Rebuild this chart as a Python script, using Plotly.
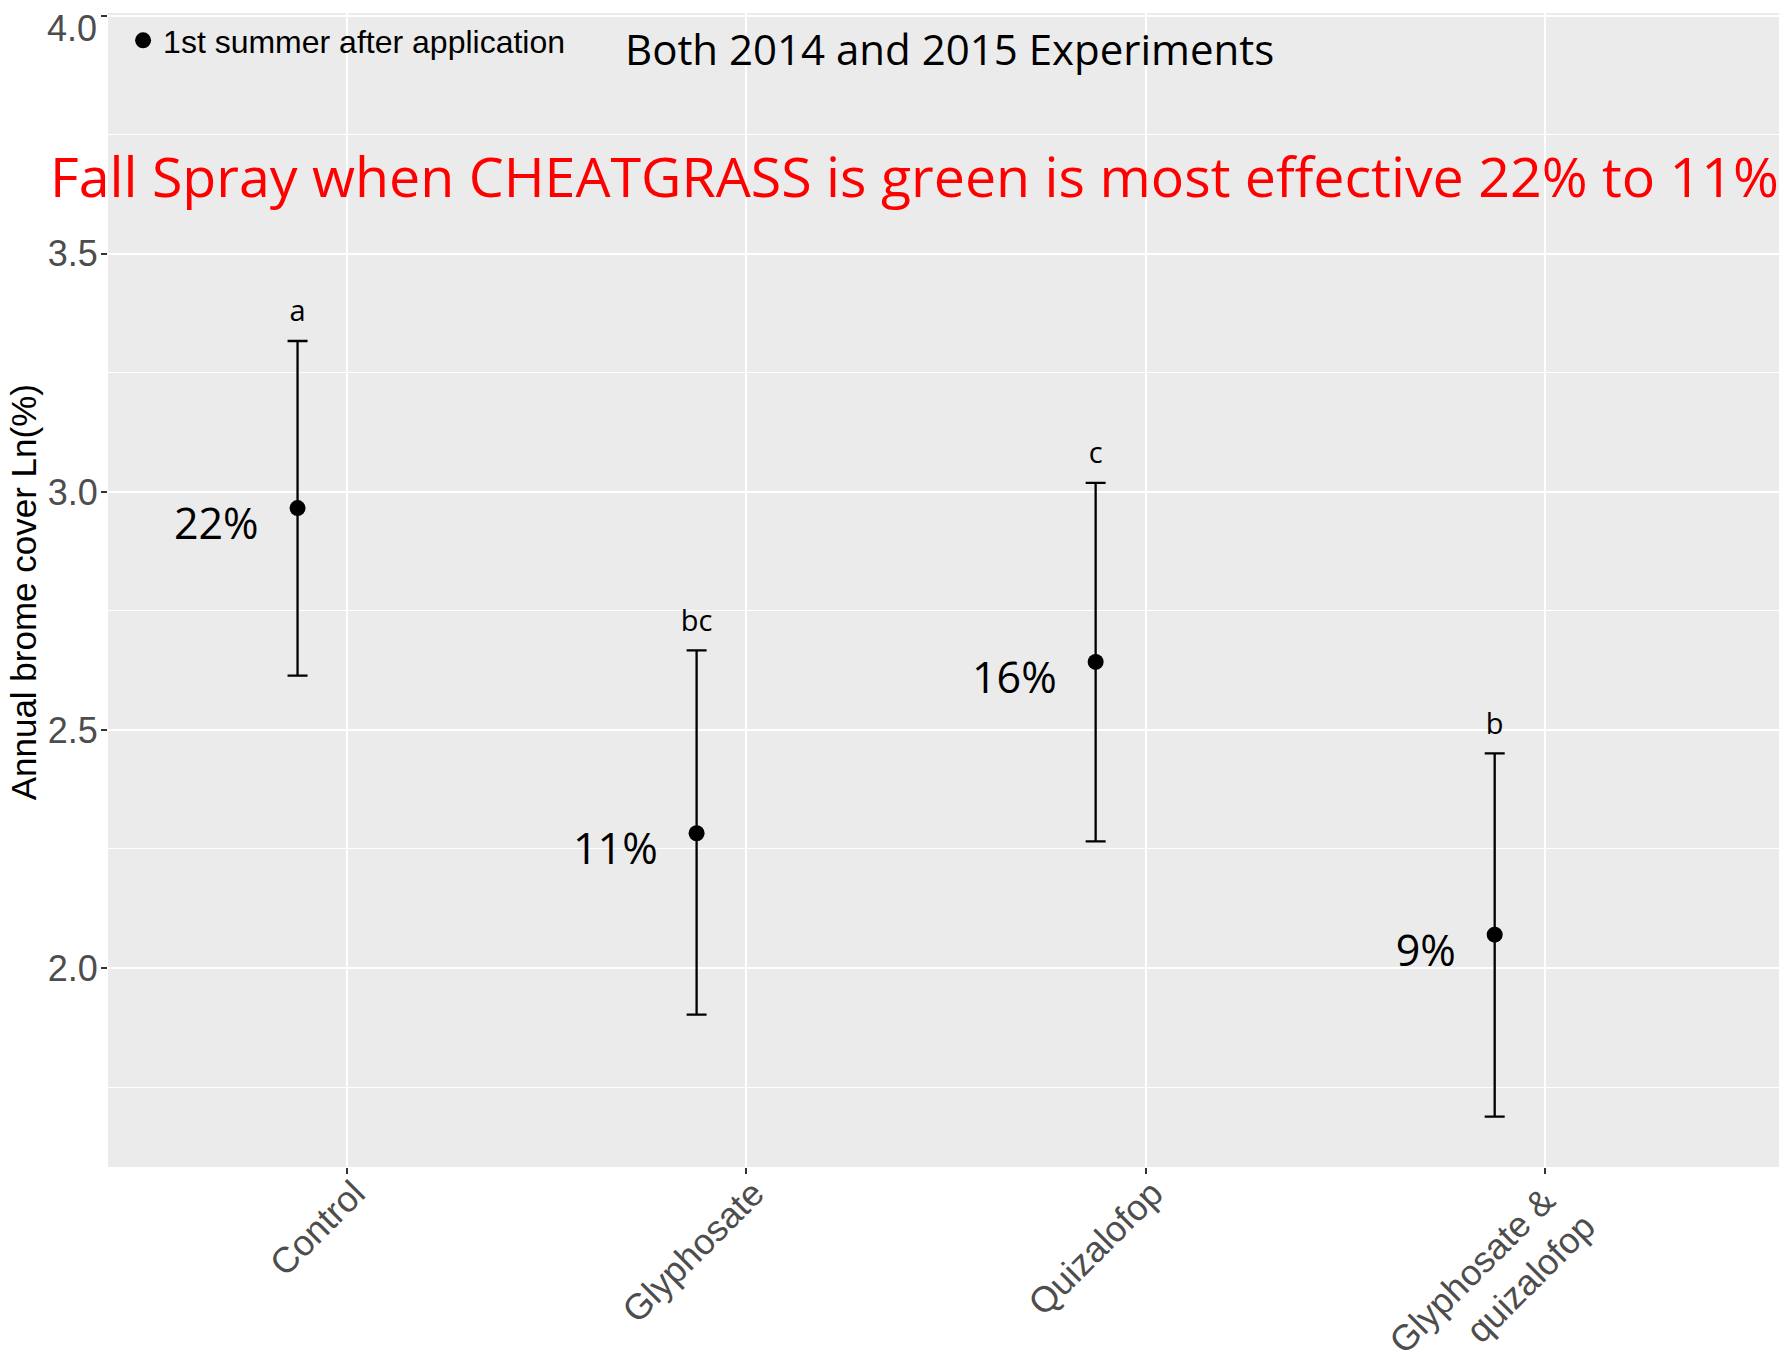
import plotly.graph_objects as go

categories = ["Control", "Glyphosate", "Quizalofop", "Glyphosate &\u00a0<br>quizalofop"]
means = [2.966, 2.283, 2.643, 2.070]
upper = [3.317, 2.667, 3.019, 2.451]
lower = [2.614, 1.902, 2.266, 1.688]
letters = ["a", "bc", "c", "b"]
percents = ["22%", "11%", "16%", "9%"]
series_name = "1st summer after application"
y_ticks = [2.0, 2.5, 3.0, 3.5, 4.0]

cat_pos = [1, 2, 3, 4]
dodge = -0.125
xp = [p + dodge for p in cat_pos]

AX_FONT = "Liberation Sans, Arial, sans-serif"
CAL_FONT = "Open Sans, Noto Sans, sans-serif"

fig = go.Figure()

fig.add_trace(go.Scatter(
    x=xp, y=means, mode="markers", name=series_name,
    marker=dict(color="black", size=16),
    error_y=dict(type="data", symmetric=False,
                 array=[u - m for u, m in zip(upper, means)],
                 arrayminus=[m - l for m, l in zip(means, lower)],
                 color="black", thickness=2.3, width=10),
    showlegend=True,
))

# significance letters above the bars
fig.add_trace(go.Scatter(
    x=xp, y=[u + 0.026 for u in upper], mode="text", text=letters,
    textposition="top center",
    textfont=dict(family=CAL_FONT, size=29, color="black"),
    showlegend=False, hoverinfo="skip", cliponaxis=False,
))

# percent labels to the left of points
fig.add_trace(go.Scatter(
    x=[x - 0.0975 for x in xp], y=[m - 0.043 for m in means], mode="text",
    text=percents, textposition="middle left",
    textfont=dict(family=CAL_FONT, size=43, color="black"),
    showlegend=False, hoverinfo="skip", cliponaxis=False,
))

fig.add_annotation(
    x=2.42, y=3.665, xref="x", yref="y",
    text="Fall Spray when CHEATGRASS is green is most effective 22% to 11%",
    showarrow=False, font=dict(family=CAL_FONT, size=55.5, color="red"),
    xanchor="center", yanchor="middle",
)
fig.add_annotation(
    x=0.502, y=0.969, xref="paper", yref="paper",
    text="Both 2014 and 2015 Experiments",
    showarrow=False, font=dict(family=CAL_FONT, size=42, color="black"),
    xanchor="center", yanchor="middle",
)
fig.add_annotation(
    x=-0.0507, y=0.498, xref="paper", yref="paper",
    text="Annual brome cover Ln(%)", textangle=-90,
    showarrow=False, font=dict(family=AX_FONT, size=35, color="black"),
    xanchor="center", yanchor="middle",
)

# top tick label (the reference draws it nudged just below its tick)
top_tick = y_ticks[-1]
fig.add_annotation(
    x=0, y=top_tick, xref="paper", yref="y",
    text=f"{top_tick:.1f}", showarrow=False,
    font=dict(family=AX_FONT, size=36, color="#4D4D4D"),
    xanchor="right", yanchor="middle", xshift=-9, yshift=-13,
)

fig.update_layout(
    width=1779, height=1346,
    margin=dict(l=100, r=3, t=5, b=187),
    paper_bgcolor="white", plot_bgcolor="#EBEBEB",
    legend=dict(x=0.009, y=1.0, xanchor="left", yanchor="top",
                bgcolor="rgba(0,0,0,0)",
                font=dict(family=AX_FONT, size=32, color="black")),
    xaxis=dict(
        range=[0.4, 4.6], tickmode="array", tickvals=cat_pos, ticktext=categories,
        tickangle=-45, showgrid=True, gridcolor="white", gridwidth=2.2,
        zeroline=False, showline=False, ticks="outside", ticklen=6,
        tickcolor="#333333", tickwidth=1.5, automargin=False,
        ticklabelstandoff=-16, ticklabelshift=7,
        tickfont=dict(family=AX_FONT, size=36, color="#4D4D4D"),
    ),
    yaxis=dict(
        range=[1.582, 4.006], tickmode="array", tickvals=y_ticks,
        ticktext=[f"{v:.1f}" if v != top_tick else "" for v in y_ticks],
        showgrid=True, gridcolor="white", gridwidth=2.2,
        minor=dict(tickmode="array", tickvals=[1.75, 2.25, 2.75, 3.25, 3.75],
                   showgrid=True, gridcolor="white", gridwidth=1.1, ticks=""),
        zeroline=False, showline=False, ticks="outside", ticklen=6,
        tickcolor="#333333", tickwidth=1.5, automargin=False,
        ticklabelstandoff=-4,
        tickfont=dict(family=AX_FONT, size=36, color="#4D4D4D"),
    ),
)

fig.write_html("out.html")
